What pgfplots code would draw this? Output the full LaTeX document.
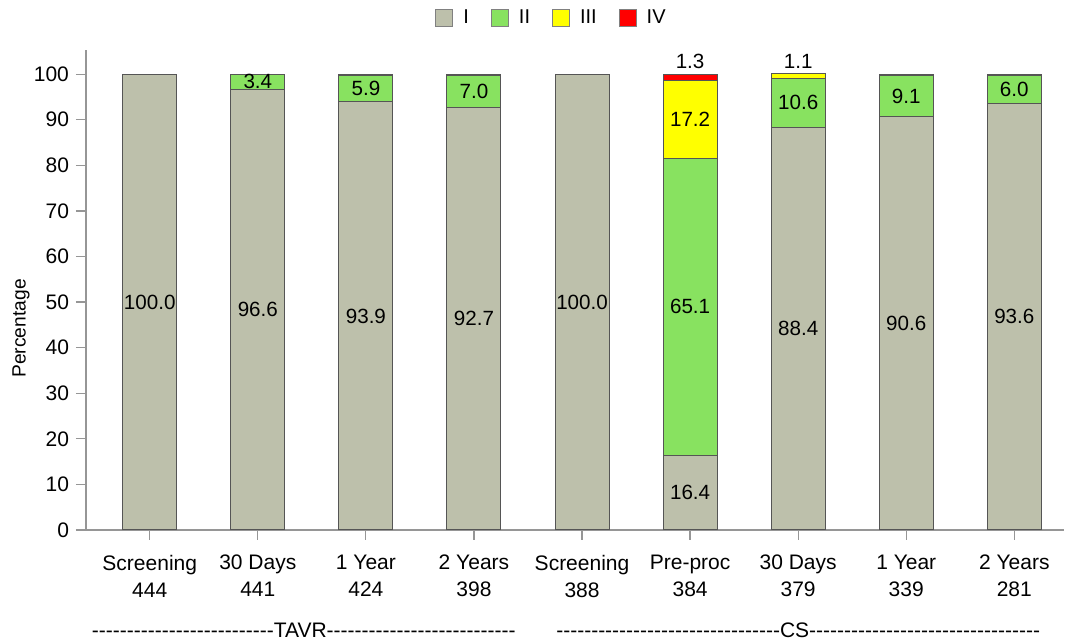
\documentclass[border=0pt]{standalone}
\usepackage{pgfplots}
\pgfplotsset{compat=1.18}
\usepackage{pgfplotstable}
\usepackage{fontspec}
\setmainfont{Liberation Sans}
\definecolor{cI}{RGB}{189,192,171}
\definecolor{cII}{RGB}{136,226,96}
\definecolor{cIII}{RGB}{255,255,0}
\definecolor{cIV}{RGB}{255,0,0}
\definecolor{edge}{RGB}{85,85,85}
\definecolor{axgray}{RGB}{150,150,150}
\newcommand\dashes[1]{\foreach \i in {1,...,#1}{-\kern0pt}}

\pgfplotstableread{
x I II III IV
0 100.0 0.0 0.0 0.0
1 96.6 3.4 0.0 0.0
2 93.9 5.9 0.2 0.0
3 92.7 7.0 0.3 0.0
4 100.0 0.0 0.0 0.0
5 16.4 65.1 17.2 1.3
6 88.4 10.6 1.1 0.0
7 90.6 9.1 0.3 0.0
8 93.6 6.0 0.4 0.0
}\bars

\pgfplotstableread{
x y lab
0 50.0 100.0
1 48.3 96.6
1 98.3 3.4
2 46.95 93.9
2 96.85 5.9
3 46.35 92.7
3 96.2 7.0
4 50.0 100.0
5 8.2 16.4
5 48.95 65.1
5 90.1 17.2
5 102.7 1.3
6 44.2 88.4
6 93.7 10.6
6 102.7 1.1
7 45.3 90.6
7 95.15 9.1
8 46.8 93.6
8 96.6 6.0
}\labs

\begin{document}
\begin{tikzpicture}[font=\fontsize{10.5}{12.5}\selectfont]
\useasboundingbox (-43pt,-55.5pt) rectangle (492pt,265pt);
\pgfplotsset{
  common/.style={
    at={(0,0)}, anchor=south west, scale only axis,
    width=489pt, height=240pt,
    xmin=-0.59, xmax=8.46, ymin=0, ymax=105.3,
  }
}
\begin{axis}[common, ybar stacked, bar width=27pt, clip=false,
  axis x line=bottom, axis y line=left,
  axis line style={axgray, -, line width=0.6pt},
  xtick={0,...,8},
  xticklabels={Screening\\444, 30 Days\\441, 1 Year\\424, 2 Years\\398, Screening\\388, Pre-proc\\384, 30 Days\\379, 1 Year\\339, 2 Years\\281},
  xticklabel style={align=center, font=\fontsize{10.5}{13.5}\selectfont, yshift=-4pt},
  ytick={0,10,...,100},
  yticklabel style={font=\fontsize{10.5}{12.5}\selectfont},
  tick style={axgray, line width=0.6pt},
  tick align=outside, major tick length=5pt,
  ylabel=Percentage,
  every axis y label/.style={at={(axis description cs:-0.0665,0.42)}, rotate=90, anchor=center, font=\fontsize{9.6}{11.5}\selectfont},
  /pgf/number format/assume math mode=true,
  legend style={at={(0.477,1.067)}, anchor=center, draw=none, fill=none,
    legend columns=-1, font=\fontsize{10}{12}\selectfont,
    /tikz/every odd column/.append style={column sep=3pt},
    /tikz/every even column/.append style={column sep=9pt}},
  legend image code/.code={\draw[#1, draw=gray] (0pt,-4.25pt) rectangle (8.5pt,4.25pt);},
]
\addplot[fill=cI, draw=edge, line width=0.5pt] table[x=x, y=I]{\bars};
\addlegendentry{I}
\addplot[fill=cII, draw=edge, line width=0.5pt] table[x=x, y=II]{\bars};
\addlegendentry{II}
\addplot[fill=cIII, draw=edge, line width=0.5pt] table[x=x, y=III]{\bars};
\addlegendentry{III}
\addplot[fill=cIV, draw=edge, line width=0.5pt] table[x=x, y=IV]{\bars};
\addlegendentry{IV}
\node[font=\fontsize{10.5}{12}\selectfont] at (axis cs:1.425,0) [yshift=-50pt] {\dashes{26}TAVR\dashes{27}};
\node[font=\fontsize{10.5}{12}\selectfont] at (axis cs:6.0,0) [yshift=-50pt] {\dashes{32}CS\dashes{33}};
\end{axis}
\begin{axis}[common, hide axis, clip=false]
\addplot[draw=none, mark=none, nodes near coords, point meta=explicit symbolic,
  every node near coord/.append style={anchor=center, text=black, font=\fontsize{10.3}{12}\selectfont}]
  table[x=x, y=y, meta=lab]{\labs};
\end{axis}
\end{tikzpicture}
\end{document}
